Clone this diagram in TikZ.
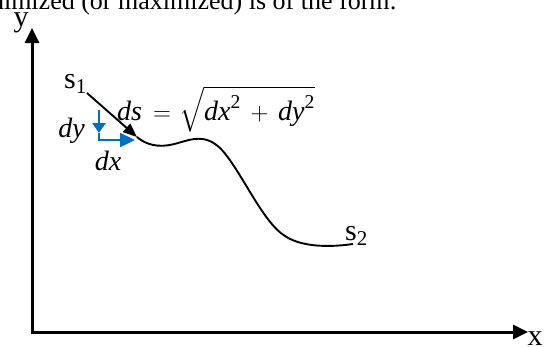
\documentclass[tikz,border=0pt]{standalone}
\usepackage{amsmath}
\usepackage{fontspec}
\setmainfont{Liberation Serif}
\usetikzlibrary{arrows.meta}
\newcommand\mi[1]{\text{\itshape #1}}
\definecolor{officeblue}{RGB}{0,112,192}
\tikzset{
  axis/.style={line width=3pt, {Triangle[length=15pt,width=14pt]}-{Triangle[length=15pt,width=14pt]}},
  curveline/.style={line width=1.9pt},
  bluearrow/.style={officeblue, line width=2.4pt},
  lbl/.style={inner sep=0pt, font=\fontsize{30}{34}\selectfont},
  mathlbl/.style={inner sep=0pt, font=\fontsize{28}{32}\selectfont},
}
\begin{document}
\begin{tikzpicture}[x=1pt,y=-1pt]
\useasboundingbox (0,0) rectangle (548,346);
\clip (0,0) rectangle (548,346);
\node[anchor=base east, inner sep=0pt, font=\fontsize{26}{30}\selectfont] (toptext) at (397,9.5) {minimized (or maximized) is of the form:};
% axes
\coordinate (ytip) at (32,28);
\coordinate (origin) at (32,332);
\coordinate (xtip) at (528,332);
\draw[axis, line join=miter] (ytip) -- (origin) -- (xtip);
\node[lbl, anchor=base] (ylab) at (21,26) {y};
\node[lbl, anchor=base] (xlab) at (535,345) {x};
% curve
\coordinate (sstart) at (87,93);
\coordinate (tip) at (137,137);
\coordinate (c1) at (178,143);
\coordinate (c2) at (220,148);
\coordinate (c3) at (285,236);
\coordinate (cend) at (353,244);
\draw[curveline, -{Triangle[length=14pt,width=11pt]}] (sstart) -- (tip);
\draw[curveline] (tip) .. controls (150,148) and (165,147) .. (c1)
  .. controls (192,139) and (205,134) .. (c2)
  .. controls (240,168) and (262,222) .. (c3)
  .. controls (300,246) and (325,248) .. (cend);
\node[lbl, anchor=base west] (s1) at (64,88) {s\textsubscript{1}};
\node[lbl, anchor=base west] (s2) at (345,240) {s\textsubscript{2}};
% blue
\coordinate (btop) at (99,110);
\coordinate (bmid) at (99,133);
\coordinate (bcorner) at (99,140);
\coordinate (bright) at (135,140);
\draw[bluearrow, -{Triangle[length=10pt,width=13pt]}] (btop) -- (bmid);
\draw[bluearrow, -{Triangle[length=15pt,width=14pt]}, line join=miter] (bmid) -- (bcorner) -- (bright);
\node[mathlbl, anchor=base east] (dy) at (85,137) {\mi{dy}};
\node[mathlbl, anchor=base] (dx) at (108,170) {\mi{dx}};
\node[mathlbl, anchor=base west] (formula) at (117,120) {$\mi{ds}\mathrel{\mskip3mu=\mskip1mu}\sqrt{\mi{dx}^{\text{2}}\mathbin{\mskip3mu+\mskip3mu}\mi{dy}^{\text{2}}}$};
\end{tikzpicture}
\end{document}
